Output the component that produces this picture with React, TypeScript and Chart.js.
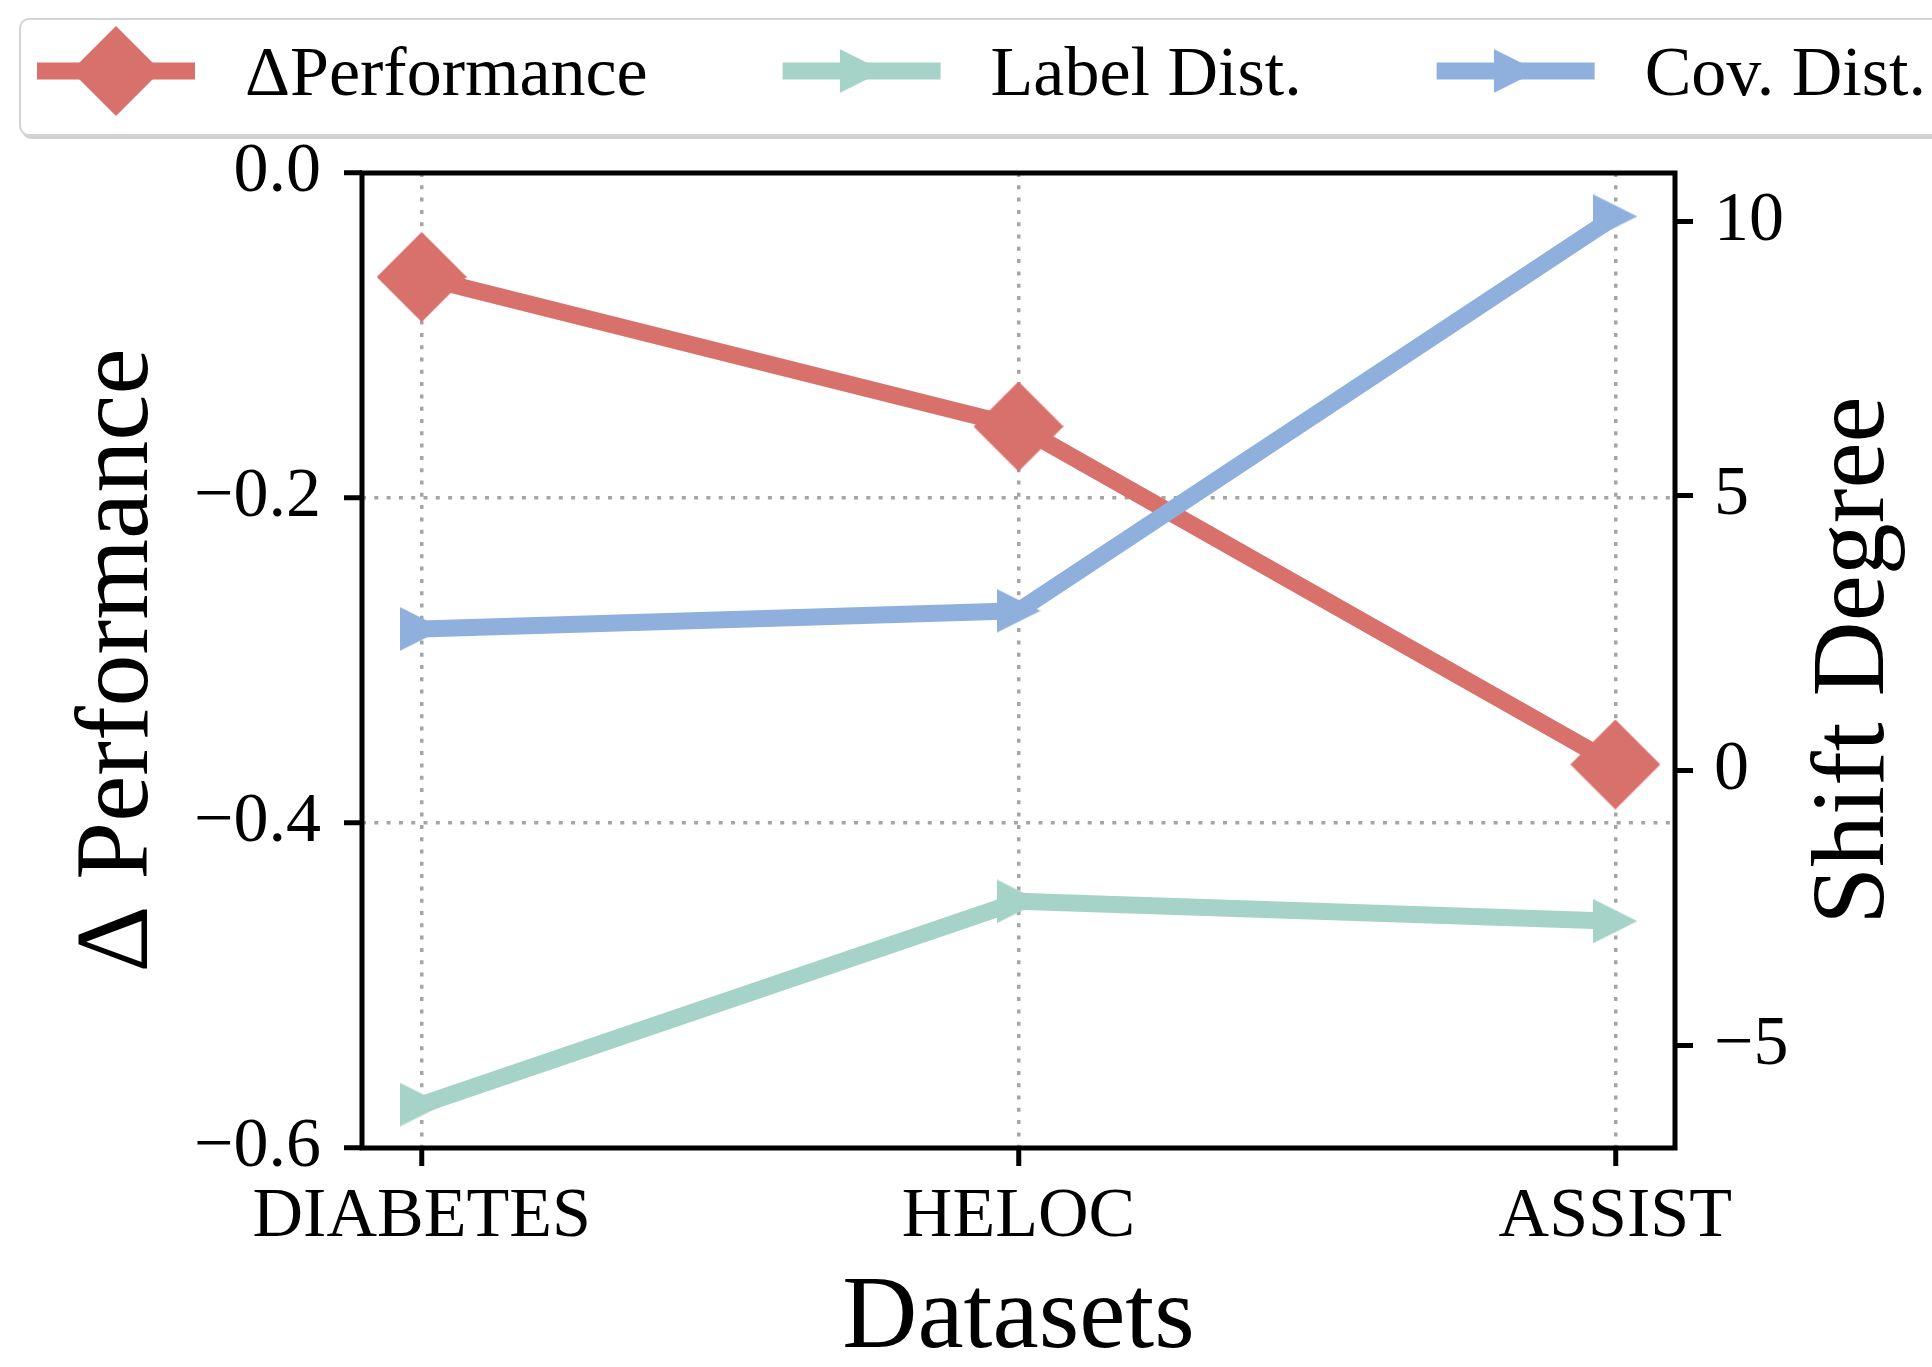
import React, { useEffect, useRef } from 'react';
import { Chart, registerables } from 'chart.js';

Chart.register(...registerables);

// ---------- data ----------
const categories = ['DIABETES', 'HELOC', 'ASSIST'];
const deltaPerformance = [-0.064, -0.156, -0.364];
const labelDist = [-6.08, -2.38, -2.74];
const covDist = [2.58, 2.91, 10.09];
const leftTicks = [0.0, -0.2, -0.4, -0.6];
const rightTicks = [10, 5, 0, -5];
const seriesNames = ['ΔPerformance', 'Label Dist.', 'Cov. Dist.'];
const xTitle = 'Datasets';
const yLeftTitle = 'Δ Performance';
const yRightTitle = 'Shift Degree';

// ---------- style ----------
const FONT = "'Liberation Serif', 'Times New Roman', Times, serif";
const RED = 'rgb(216,113,108)';
const TEAL = 'rgb(166,211,199)';
const BLUE = 'rgb(143,176,221)';
const GRID = 'rgb(165,165,165)';
const LW = 17;
const W = 1932;
const H = 1367;

function makeDiamond(r: number, color: string) {
  const c = document.createElement('canvas');
  c.width = 2 * r;
  c.height = 2 * r;
  const g = c.getContext('2d')!;
  g.fillStyle = color;
  g.beginPath();
  g.moveTo(r, 0);
  g.lineTo(2 * r, r);
  g.lineTo(r, 2 * r);
  g.lineTo(0, r);
  g.closePath();
  g.fill();
  return c;
}

function makeTriangle(s: number, color: string) {
  const c = document.createElement('canvas');
  c.width = s;
  c.height = s;
  const g = c.getContext('2d')!;
  g.fillStyle = color;
  g.beginPath();
  g.moveTo(0, 0);
  g.lineTo(s, s / 2);
  g.lineTo(0, s);
  g.closePath();
  g.fill();
  return c;
}

const fmtLeft = (v: number) =>
  Math.abs(v) < 1e-9 ? '0.0' : v.toFixed(1).replace('-', '\u2212');
const fmtRight = (v: number) => String(v).replace('-', '\u2212');

export default function App() {
  const ref = useRef<HTMLCanvasElement | null>(null);

  useEffect(() => {
    const canvas = ref.current;
    if (!canvas) return;

    const diamond = makeDiamond(45, RED);
    const triTeal = makeTriangle(44, TEAL);
    const triBlue = makeTriangle(44, BLUE);
    const markers = [diamond, triTeal, triBlue];
    const colors = [RED, TEAL, BLUE];

    const toPts = (arr: number[]) => categories.map((_, i) => ({ x: i, y: arr[i] }));

    const decor = {
      id: 'decor',
      afterDraw(chart: any) {
        const { ctx, chartArea: ca } = chart;
        ctx.save();
        // frame
        ctx.strokeStyle = '#000';
        ctx.lineWidth = 5;
        ctx.strokeRect(ca.left, ca.top, ca.right - ca.left, ca.bottom - ca.top);

        // axis titles
        ctx.fillStyle = '#000';
        ctx.font = `104px ${FONT}`;
        ctx.textAlign = 'center';
        ctx.textBaseline = 'alphabetic';
        ctx.fillText(xTitle, (ca.left + ca.right) / 2, ca.bottom + 199);
        const cy = (ca.top + ca.bottom) / 2;
        ctx.save();
        ctx.translate(ca.left - 215, cy);
        ctx.rotate(-Math.PI / 2);
        ctx.fillText(yLeftTitle, 0, 0);
        ctx.restore();
        ctx.save();
        ctx.translate(ca.right + 208, cy);
        ctx.rotate(-Math.PI / 2);
        ctx.fillText(yRightTitle, 0, 0);
        ctx.restore();

        // legend box
        const bx = 20, by = 19, bw = 1990, bh = 116, br = 9;
        ctx.fillStyle = 'rgba(0,0,0,0.18)';
        ctx.beginPath();
        ctx.roundRect(bx + 2, by + 4, bw, bh, br);
        ctx.fill();
        ctx.fillStyle = '#fff';
        ctx.strokeStyle = '#d4d4d4';
        ctx.lineWidth = 2;
        ctx.beginPath();
        ctx.roundRect(bx, by, bw, bh, br);
        ctx.fill();
        ctx.stroke();

        // legend entries
        ctx.font = `70px ${FONT}`;
        ctx.textAlign = 'left';
        const handleLen = 158;
        const ly = 71;
        let x = 37;
        for (let i = 0; i < seriesNames.length; i++) {
          ctx.strokeStyle = colors[i];
          ctx.lineWidth = LW;
          ctx.lineCap = 'butt';
          ctx.beginPath();
          ctx.moveTo(x, ly);
          ctx.lineTo(x + handleLen, ly);
          ctx.stroke();
          const m = markers[i];
          ctx.drawImage(m, x + handleLen / 2 - m.width / 2, ly - m.height / 2);
          const tx = x + handleLen + 50;
          ctx.fillStyle = '#000';
          ctx.fillText(seriesNames[i], tx, 95);
          x = tx + ctx.measureText(seriesNames[i]).width + 135;
        }
        ctx.restore();
      },
    };

    const tickFont = { family: FONT, size: 70 };

    const chart = new Chart(canvas, {
      type: 'line',
      data: {
        datasets: [
          {
            label: seriesNames[0],
            data: toPts(deltaPerformance),
            yAxisID: 'y',
            borderColor: RED,
            backgroundColor: RED,
            borderWidth: LW,
            pointStyle: diamond as any,
            pointRadius: 45,
            pointBorderWidth: 0,
            borderJoinStyle: 'round',
            order: 2,
            clip: false as any,
          },
          {
            label: seriesNames[1],
            data: toPts(labelDist),
            yAxisID: 'y1',
            borderColor: TEAL,
            backgroundColor: TEAL,
            borderWidth: LW,
            pointStyle: triTeal as any,
            pointRadius: 22,
            pointBorderWidth: 0,
            borderJoinStyle: 'round',
            order: 1,
            clip: false as any,
          },
          {
            label: seriesNames[2],
            data: toPts(covDist),
            yAxisID: 'y1',
            borderColor: BLUE,
            backgroundColor: BLUE,
            borderWidth: LW,
            pointStyle: triBlue as any,
            pointRadius: 22,
            pointBorderWidth: 0,
            borderJoinStyle: 'round',
            order: 0,
            clip: false as any,
          },
        ],
      },
      options: {
        responsive: false,
        animation: false,
        devicePixelRatio: 1,
        events: [],
        layout: { padding: { top: 173, left: 0, right: 0, bottom: 0 } },
        plugins: { legend: { display: false }, tooltip: { enabled: false } },
        scales: {
          x: {
            type: 'linear',
            min: -0.1,
            max: 2.1,
            afterBuildTicks: (s: any) => {
              s.ticks = categories.map((_, i) => ({ value: i }));
            },
            afterFit: (s: any) => {
              s.height = 219;
            },
            ticks: {
              callback: (v: any) => categories[v as number] ?? '',
              font: tickFont,
              color: '#000',
              padding: 10,
              autoSkip: false,
              maxRotation: 0,
            },
            grid: {
              color: GRID,
              lineWidth: 3.5,
              tickLength: 18,
              tickWidth: 5,
              tickColor: '#000',
            },
            border: { display: false, dash: [4, 8.3] },
          },
          y: {
            type: 'linear',
            position: 'left',
            min: -0.6,
            max: 0,
            afterBuildTicks: (s: any) => {
              s.ticks = leftTicks.map((v) => ({ value: v }));
            },
            afterFit: (s: any) => {
              s.width = 362;
            },
            ticks: {
              callback: (v: any) => fmtLeft(Number(v)),
              font: tickFont,
              color: '#000',
              padding: 23,
            },
            grid: {
              color: GRID,
              lineWidth: 3.5,
              tickLength: 18,
              tickWidth: 5,
              tickColor: '#000',
            },
            border: { display: false, dash: [4, 8.3] },
          },
          y1: {
            type: 'linear',
            position: 'right',
            min: -6.87,
            max: 10.88,
            afterBuildTicks: (s: any) => {
              s.ticks = rightTicks.map((v) => ({ value: v }));
            },
            afterFit: (s: any) => {
              s.width = 257;
            },
            ticks: {
              callback: (v: any) => fmtRight(Number(v)),
              font: tickFont,
              color: '#000',
              padding: 21,
            },
            grid: {
              drawOnChartArea: false,
              tickLength: 18,
              tickWidth: 5,
              tickColor: '#000',
            },
            border: { display: false },
          },
        },
      } as any,
      plugins: [decor],
    });

    return () => chart.destroy();
  }, []);

  return (
    <div style={{ position: 'absolute', left: 0, top: 0, width: W, height: H, background: '#fff' }}>
      <canvas ref={ref} width={W} height={H} style={{ display: 'block', width: W, height: H }} />
    </div>
  );
}
